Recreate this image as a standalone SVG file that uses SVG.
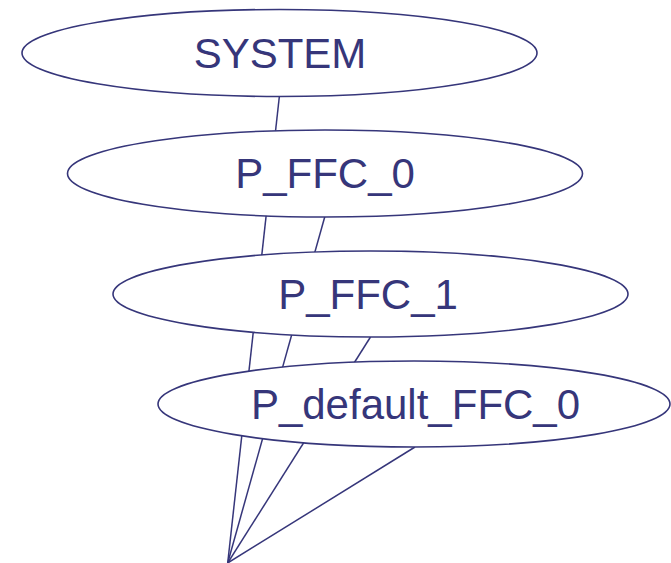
<svg xmlns="http://www.w3.org/2000/svg" width="671" height="563" viewBox="0 0 671 563">
  <style>
    .edge { stroke: #36367a; stroke-width: 1.5; fill: none; }
    .node ellipse { fill: #ffffff; stroke: #36367a; stroke-width: 1.6; }
    .node text { fill: #36367a; font-family: "Liberation Sans", Arial, sans-serif; font-size: 42px; text-anchor: middle; }
  </style>
  <rect width="671" height="563" fill="#ffffff"/>
  <!-- every node links down to a common target below the frame; ellipses sit on top -->
  <g id="connectors">
    <line class="edge" x1="279.4" y1="96" x2="227.7" y2="563"/>
    <line class="edge" x1="325" y1="216" x2="227.7" y2="563"/>
    <line class="edge" x1="370.5" y1="337" x2="227.7" y2="563"/>
    <line class="edge" x1="415" y1="447" x2="227.7" y2="563"/>
  </g>
  <g id="node-system" class="node">
    <ellipse cx="279.5" cy="53" rx="257.5" ry="43.5"/>
    <text x="280" y="67.5">SYSTEM</text>
  </g>
  <g id="node-p-ffc-0" class="node">
    <ellipse cx="325" cy="173.5" rx="257.5" ry="43.5"/>
    <text x="325" y="187.7">P_FFC_0</text>
  </g>
  <g id="node-p-ffc-1" class="node">
    <ellipse cx="370.5" cy="294" rx="257.5" ry="43"/>
    <text x="368" y="308.5">P_FFC_1</text>
  </g>
  <g id="node-p-default-ffc-0" class="node">
    <ellipse cx="414" cy="404" rx="256" ry="43"/>
    <text x="415.5" y="419">P_default_FFC_0</text>
  </g>
</svg>
